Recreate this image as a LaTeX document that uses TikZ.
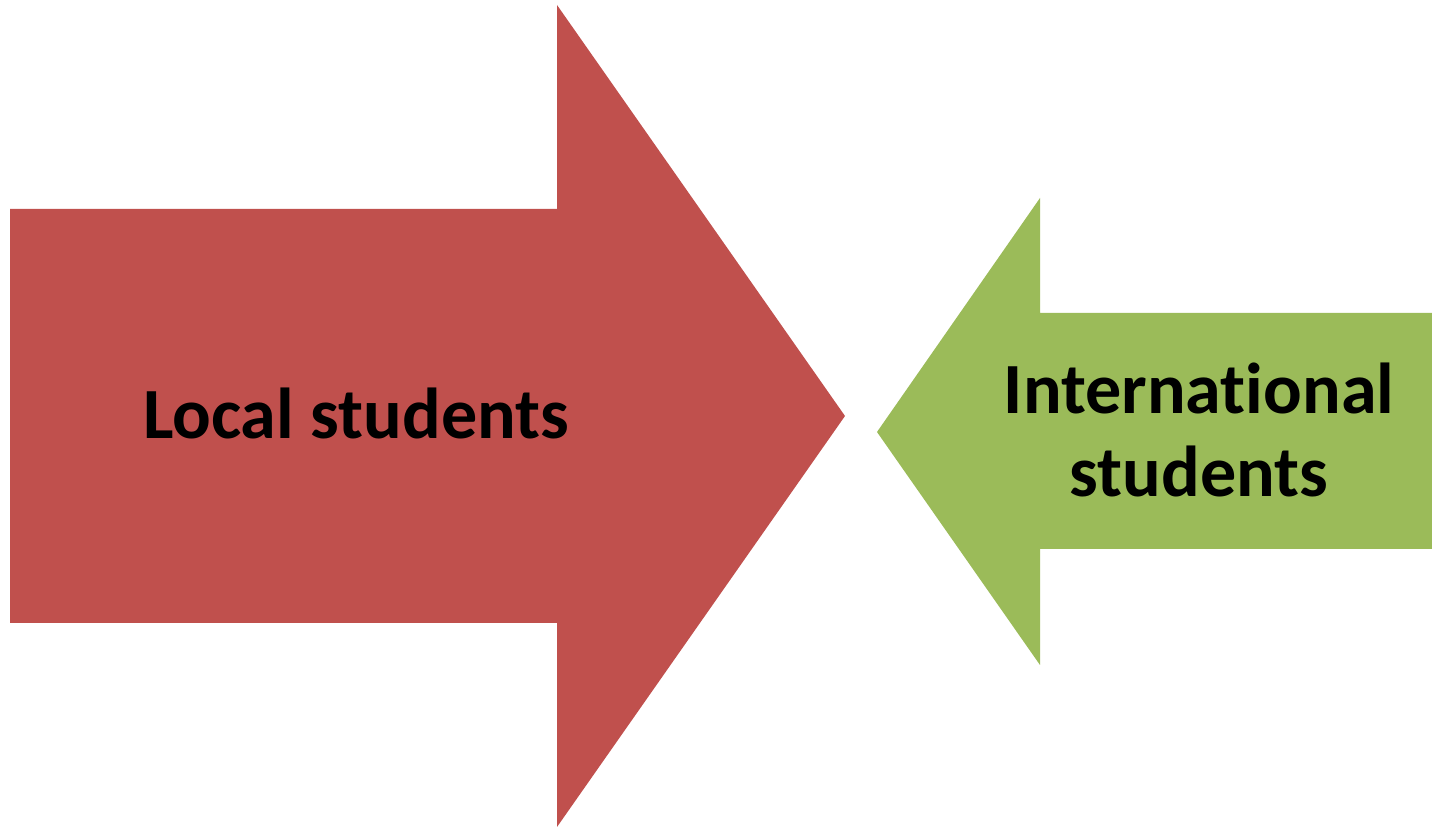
\documentclass[tikz,border=0pt]{standalone}
\usepackage{fontspec}
\setmainfont[Ligatures=NoCommon]{Carlito}
\usepackage{tikz}

\definecolor{localred}{HTML}{C0504D}
\definecolor{intlgreen}{HTML}{9BBB59}

\begin{document}
\begin{tikzpicture}[x=0.01cm,y=-0.01cm,
	label/.style={font=\bfseries\fontsize{20.5}{23.5}\selectfont, align=center, text=black}]
\useasboundingbox (0,0) rectangle (1432,828);
\fill [localred] (10,209) -- (557,209) -- (557,5) -- (845,416) -- (557,827) -- (557,623) -- (10,623) -- cycle;
\fill [intlgreen] (1432,313) -- (1040,313) -- (1040,198) -- (877,432) -- (1040,665) -- (1040,549) -- (1432,549) -- cycle;
\node [label] (local) at (356,413) {Local students};
\node [label] (intl) at (1199,430) {International\\students};
\end{tikzpicture}
\end{document}
